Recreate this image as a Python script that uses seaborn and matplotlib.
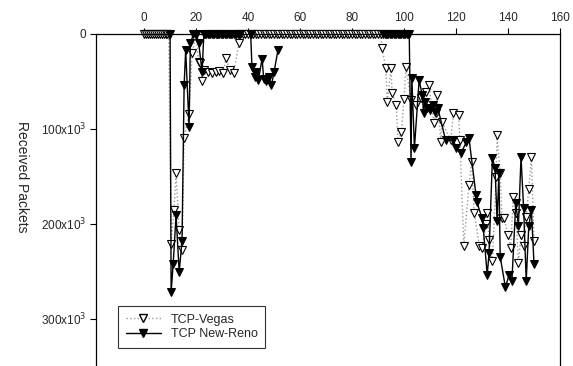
import numpy as np
import pandas as pd
import seaborn as sns
import matplotlib
matplotlib.use("Agg")
import matplotlib.pyplot as plt
from matplotlib.lines import Line2D

# ---------------- data (x = time, y = received packets in thousands) ----------------
vegas_x = [0, 0.75, 1.5, 2.25, 3, 3.75, 4.5, 5.25, 6, 6.75, 7.5, 8.25, 9, 9.5,
           10.4, 11.5, 12.3, 13.5, 14.6, 15.4, 17.3, 18.5, 20, 21, 21.5, 22.3, 23,
           24.5, 26, 27.5, 29, 30.5, 31.5, 33, 34.5, 36.5,
           37, 38, 39, 40, 41, 42, 43, 44, 45, 46, 47, 48, 49, 50, 51, 52, 53, 54,
           55, 56, 57, 58, 59, 60, 61, 62, 63, 64, 65, 66, 67, 68, 69, 70, 71, 72,
           73, 74, 75, 76, 77, 78, 79, 80, 81, 82, 83, 84, 85, 86, 87, 88, 89, 90, 91,
           91.5, 93, 93.5, 95, 95.4, 97, 97.7, 99, 100, 100.7, 102.7, 104.5, 106.5,
           108.5, 109.6, 111.5, 112.3, 112.7, 114.2, 114.6, 118, 119, 121, 121.5,
           123, 125, 126, 127, 129, 130, 131.5, 132, 132.7, 134, 135.4, 135.8, 137,
           137.7, 138.5, 140, 141, 142, 143, 144, 145, 146, 147, 148, 149, 150]
vegas_y = [0, 0, 0, 0, 0, 0, 0, 0, 0, 0, 0, 0, 0, 0,
           221, 186, 147, 207, 228, 110, 84, 20, 1, 30, 31, 50, 38,
           40, 41, 40, 39, 41, 25, 38, 41, 9.5,
           0, 0, 0, 0, 0, 0, 0, 0, 0, 0, 0, 0, 0, 0, 0, 0, 0, 0,
           0, 0, 0, 0, 0, 0, 0, 0, 0, 0, 0, 0, 0, 0, 0, 0, 0, 0,
           0, 0, 0, 0, 0, 0, 0, 0, 0, 0, 0, 0, 0, 0, 0, 0, 0, 0, 0,
           14.5, 36, 72, 36, 62, 75, 114, 103, 68, 35, 70, 75, 67,
           61, 54, 94, 83, 64, 114, 93, 112, 83, 85, 112,
           223, 159, 135, 189, 223, 226, 200, 189, 217, 239, 151, 107, 147,
           194, 194, 212, 226, 172, 189, 241, 212, 223, 193, 163, 130, 218]

# New-Reno comes in three pieces (gaps where only Vegas markers show)
reno_x1 = [10, 10.4, 11.2, 12.3, 13.5, 14.6, 15.4, 16, 17.3, 17.8, 19, 20, 21, 22.3,
           23, 23.5, 24, 24.5, 25, 25.5, 26, 26.5, 27, 27.5, 28, 28.5, 29, 29.5, 30,
           30.5, 31, 31.5, 32, 32.5, 33, 33.5, 34, 34.5, 35, 35.5, 36, 36.5, 37]
reno_y1 = [0, 272, 242, 191, 251, 218, 54, 17, 98, 10, 0, 0, 9, 40,
           0, 0, 0, 0, 0, 0, 0, 0, 0, 0, 0, 0, 0, 0, 0,
           0, 0, 0, 0, 0, 0, 0, 0, 0, 0, 0, 0, 0, 0]
reno_x2 = [41, 41.5, 42.5, 43, 44, 45.4, 46, 47, 48, 49, 50, 51.5]
reno_y2 = [0, 35, 45, 40, 48, 26, 47, 50, 45, 54, 40, 17]
reno_x3 = [92, 92.5, 93, 93.5, 94, 94.5, 95, 95.5, 96, 96.5, 97, 97.5, 98, 98.5, 99,
           99.5, 100, 100.5, 101, 101.5, 102, 102.7, 103, 104, 105.8, 107, 107.5,
           108, 109, 110, 111, 112, 113, 116, 119, 120, 122, 124, 125, 127.7, 128,
           130, 130.5, 132, 132.7, 134, 135, 135.8, 136.5, 137, 139, 140.4, 141.5,
           143, 144, 145, 146, 147, 148, 149, 150]
reno_y3 = [0, 0, 0, 0, 0, 0, 0, 0, 0, 0, 0, 0, 0, 0, 0,
           0, 0, 0, 0, 0, 0, 135, 46, 120, 49, 64, 83,
           72, 78, 80, 75, 82, 78, 112, 112, 120, 125, 114, 110, 170, 177,
           194, 205, 254, 231, 131, 141, 197, 147, 235, 267, 254, 260,
           178, 202, 130, 183, 260, 202, 186, 242]

y_ticks = [0, 100, 200, 300]
y_tick_labels = ["0", "100x10$^3$", "200x10$^3$", "300x10$^3$"]
x_ticks = [0, 20, 40, 60, 80, 100, 120, 140, 160]

df_vegas = pd.DataFrame({"time": vegas_x, "packets": np.array(vegas_y) * 1000})
df_reno = pd.concat([
    pd.DataFrame({"time": reno_x1, "packets": np.array(reno_y1) * 1000, "seg": 1}),
    pd.DataFrame({"time": reno_x2, "packets": np.array(reno_y2) * 1000, "seg": 2}),
    pd.DataFrame({"time": reno_x3, "packets": np.array(reno_y3) * 1000, "seg": 3}),
])

sns.set_style("ticks")
plt.rcParams['font.family'] = ['Liberation Sans', 'DejaVu Sans']

fig = plt.figure(figsize=(5.73, 3.66), dpi=100)
ax = fig.add_axes([96 / 573, 0, 464 / 573, 332 / 366])

# vegas drawn first, new-reno on top
sns.lineplot(data=df_vegas, x="time", y="packets", sort=False, estimator=None,
             ax=ax, color="#9a9a9a", linestyle=":", linewidth=1,
             marker="v", markersize=6, markerfacecolor="white",
             markeredgecolor="black", markeredgewidth=0.8, zorder=2,
             clip_on=False)
sns.lineplot(data=df_reno, x="time", y="packets", units="seg", sort=False,
             estimator=None, ax=ax, color="black", linewidth=1,
             marker="v", markersize=6, markerfacecolor="black",
             markeredgecolor="black", zorder=3, clip_on=False)

ax.set_xlim(-18.5, 160)
ax.set_ylim(350000, 0)
ax.xaxis.tick_top()
ax.set_xticks(x_ticks)
ax.set_yticks([v * 1000 for v in y_ticks])
ax.set_yticklabels(y_tick_labels)
ax.tick_params(axis="both", labelsize=8.5, color="black", length=4, width=0.8,
               direction="out", pad=3)
ax.tick_params(axis="x", top=True, bottom=False)

for s in ["left", "right", "top"]:
    ax.spines[s].set_visible(True)
    ax.spines[s].set_color("black")
    ax.spines[s].set_linewidth(0.9)
ax.spines["bottom"].set_visible(False)

ax.set_xlabel("")
ax.set_ylabel("Received Packets", fontsize=10, rotation=270)
ax.yaxis.set_label_coords(-0.175, 0.57)

handles = [
    Line2D([], [], color="#9a9a9a", linestyle=":", linewidth=1, marker="v",
           markersize=6, markerfacecolor="white", markeredgecolor="black"),
    Line2D([], [], color="black", linewidth=1, marker="v", markersize=6,
           markerfacecolor="black", markeredgecolor="black"),
]
leg = ax.legend(handles, ["TCP-Vegas", "TCP New-Reno"], loc="lower left",
                bbox_to_anchor=(0.034, 0.036), fontsize=9, frameon=True,
                fancybox=False, edgecolor="black", handlelength=2.8,
                borderpad=0.6, labelspacing=0.2)
leg.get_frame().set_linewidth(0.8)

fig.savefig("out.png", dpi=100)
